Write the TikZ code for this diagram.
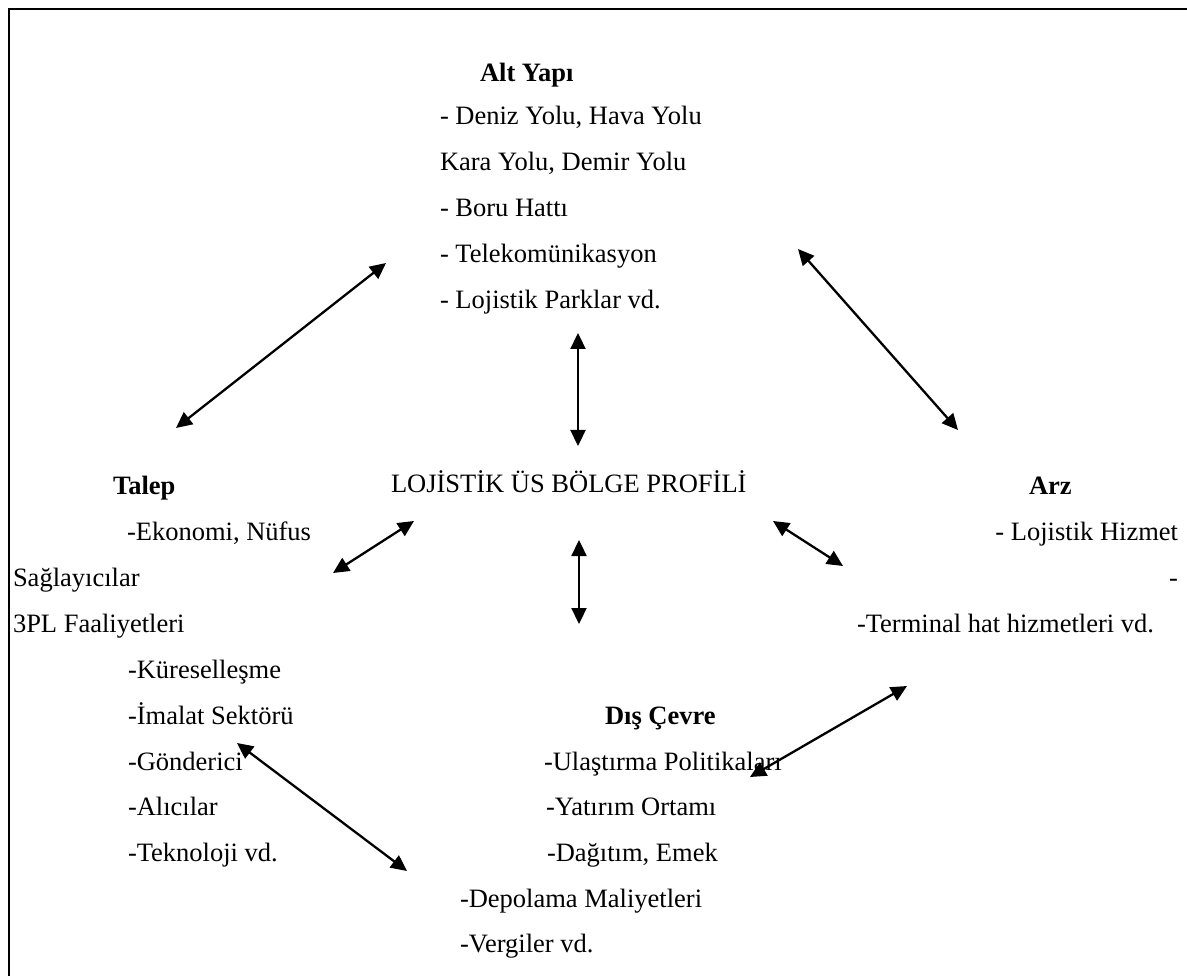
\documentclass[tikz,border=0pt]{standalone}
\usepackage{fontspec}
\setmainfont{Liberation Serif}
\usetikzlibrary{arrows.meta}
\tikzset{
  txt/.style={anchor=base west, inner sep=0pt, outer sep=0pt, font=\fontsize{26.5}{30}\selectfont},
  head/.style={txt, font=\fontsize{26.5}{30}\selectfont\bfseries},
  dbl/.style={line width=2.3pt, {Triangle[length=16pt,width=15pt]}-{Triangle[length=16pt,width=15pt]}},
  frame/.style={line width=2pt}
}
\begin{document}
\begin{tikzpicture}[x=1pt,y=-1pt]
\useasboundingbox (0,0) rectangle (1187,976);
\clip (0,0) rectangle (1187,976);
\fill[white] (0,0) rectangle (1187,976);
\draw[frame] (9,9) rectangle (1220,1000);

% Alt Yapi
\node[head] (alt) at (480,82) {Alt Yapı};
\node[txt] (a1) at (440,125) {- Deniz Yolu, Hava Yolu};
\node[txt] (a2) at (440,171) {Kara Yolu, Demir Yolu};
\node[txt] (a3) at (440,217) {- Boru Hattı};
\node[txt] (a4) at (440,263) {- Telekomünikasyon};
\node[txt] (a5) at (440,309) {- Lojistik Parklar vd.};

% Center
\node[txt] (center) at (391,493) {LOJİSTİK ÜS BÖLGE PROFİLİ};

% Talep
\node[head] (talep) at (113,494) {Talep};
\node[txt] (t1) at (127,540) {-Ekonomi, Nüfus};
\node[txt] (t2) at (13,586) {Sağlayıcılar};
\node[txt] (t3) at (13,632) {3PL Faaliyetleri};
\node[txt] (t4) at (128,678) {-Küreselleşme};
\node[txt] (t5) at (128,724) {-İmalat Sektörü};
\node[txt] (t6) at (128,770) {-Gönderici};
\node[txt] (t7) at (128,815) {-Alıcılar};
\node[txt] (t8) at (128,861) {-Teknoloji vd.};

% Arz
\node[head] (arz) at (1029,494) {Arz};
\node[txt, anchor=base east] (r1) at (1178,540) {- Lojistik Hizmet};
\node[txt, anchor=base east] (r2) at (1178,586) {-};
\node[txt] (r3) at (857,632) {-Terminal hat hizmetleri vd.};

% Dis Cevre
\node[head] (dis) at (605,724) {Dış Çevre};
\node[txt] (d1) at (544,770) {-Ulaştırma Politikaları};
\node[txt] (d2) at (546,815) {-Yatırım Ortamı};
\node[txt] (d3) at (547,861) {-Dağıtım, Emek};
\node[txt] (d4) at (460,907) {-Depolama Maliyetleri};
\node[txt] (d5) at (460,952) {-Vergiler vd.};

% arrow end points
\coordinate (p1a) at (386,263);
\coordinate (p1b) at (176,428);
\coordinate (p2a) at (798,249);
\coordinate (p2b) at (958,430);
\coordinate (p3a) at (578,333);
\coordinate (p3b) at (578,446);
\coordinate (p4a) at (579,540);
\coordinate (p4b) at (579,624);
\coordinate (p5a) at (414,521);
\coordinate (p5b) at (333,573);
\coordinate (p6a) at (773,521);
\coordinate (p6b) at (843,566);
\coordinate (p7a) at (907,686);
\coordinate (p7b) at (750,777);
\coordinate (p8a) at (237,743);
\coordinate (p8b) at (407,871);

\draw[dbl] (p1a) -- (p1b);
\draw[dbl] (p2a) -- (p2b);
\draw[dbl] (p3a) -- (p3b);
\draw[dbl] (p4a) -- (p4b);
\draw[dbl] (p5a) -- (p5b);
\draw[dbl] (p6a) -- (p6b);
\draw[dbl] (p7a) -- (p7b);
\draw[dbl] (p8a) -- (p8b);
\end{tikzpicture}
\end{document}
